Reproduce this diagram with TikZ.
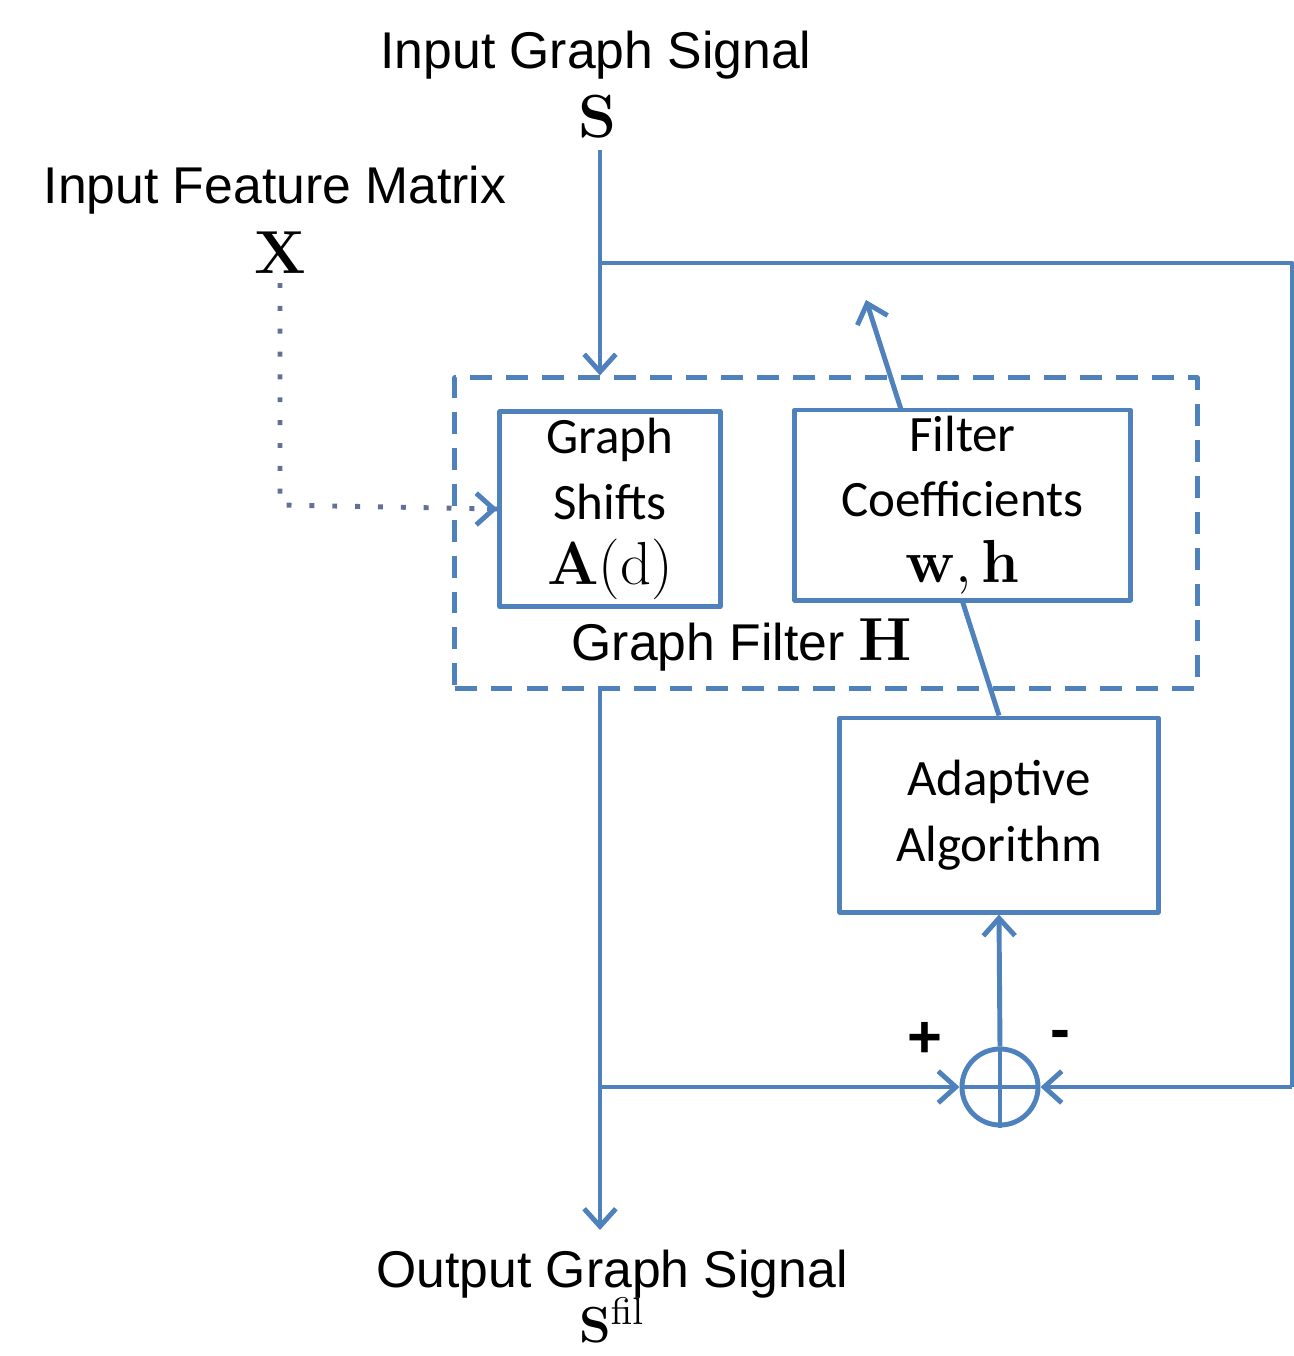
\documentclass[tikz,border=0pt]{standalone}
\usepackage{amsmath}
\usepackage[no-math]{fontspec}
\setmainfont{Liberation Sans}
\newfontfamily\boxfont{Carlito}
\usepackage{xcolor}
\usetikzlibrary{arrows.meta,calc}
\definecolor{lineblue}{RGB}{79,129,189}
\definecolor{dotblue}{RGB}{98,112,150}
\newcommand{\symbig}[1]{{\fontsize{16.5}{18}\selectfont$#1$}}

\begin{document}
\begin{tikzpicture}[x=0.01cm,y=-0.01cm,>={Straight Barb[length=5pt,width=9pt,line width=1.4pt]},line join=round,
  wire/.style={lineblue,line width=1.4pt},
  block/.style={draw=lineblue,line width=1.4pt,fill=white,align=center,inner sep=0pt,
    font=\boxfont\fontsize{14.5}{18.6}\selectfont},
  sigtext/.style={inner sep=0pt,font=\fontsize{14.7}{17.6}\selectfont},
  sign/.style={inner sep=0pt,font=\bfseries\fontsize{17}{20}\selectfont}]
  \useasboundingbox (0,0) rectangle (1294,1356);
  % labels
  \node[sigtext] (inSig) at (596,55) {Input Graph Signal};
  \node[sigtext] (sSym) at (597,117) {\symbig{\mathbf{S}}};
  \node[sigtext] (inFeat) at (275,190) {Input Feature Matrix};
  \node[sigtext] (xSym) at (280,253) {\symbig{\mathbf{X}}};
  \node[sigtext] (outSig) at (612,1274) {Output Graph Signal};
  \node[sigtext] (sFil) at (612,1320) {\fontsize{15.5}{17}\selectfont$\mathbf{S}^{\mathrm{fil}}$};
  \coordinate (sIn) at (600,150);
  \coordinate (jTop) at (600,263);
  \coordinate (rTop) at (1292,263);
  \coordinate (rBot) at (1292,1087);
  \coordinate (jBot) at (600,1087);
  \coordinate (sOut) at (600,1230);
  \coordinate (xTop) at (280,283);
  \coordinate (xCorner) at (280,505);
  \coordinate (fbEnd) at (866,300);
  % graph filter
  \node[draw=lineblue,line width=1.4pt,dash pattern=on 6.2pt off 4pt,minimum width=7.42cm,minimum height=3.1cm,inner sep=0pt] (gf) at (826,533) {};
  \node[sigtext] (gfText) at (742,645) {Graph Filter \symbig{\mathbf{H}}};
  \node[block,minimum width=2.2cm,minimum height=1.95cm] (shifts) at (610,509) {Graph\\Shifts\\\symbig{\mathbf{A}(\mathrm{d})}};
  \node[block,minimum width=3.18cm,minimum height=1.94cm] (adapt) at (999,815) {Adaptive\\Algorithm};
  \draw[wire,->] (adapt.north) -- (fbEnd);
  \node[block,minimum width=3.35cm,minimum height=1.9cm] (coef) at (962.5,505) {Filter\\Coefficients\\\symbig{\mathbf{w,h}}};
  % summing point
  \node[draw=lineblue,line width=1.4pt,circle,minimum size=0.76cm,inner sep=0pt] (sum) at (1000,1087) {};
  \draw[wire] (sum.north) -- (sum.south) (sum.west) -- (sum.east);
  \node[sign] (plus) at (925,1040) {+};
  \node[sign] (minus) at (1060,1040) {-};
  % connectors
  \draw[wire,->] (sIn) -- (gf.north -| sIn);
  \draw[wire] (jTop) -- (rTop) -- (rBot);
  \draw[wire,->] (rBot) -- (sum.east);
  \draw[wire,->] (gf.south -| jBot) -- (sOut);
  \draw[wire,->] (jBot) -- (sum.west);
  \draw[wire,->] (sum.north) -- (adapt.south);
  \draw[dotblue,line width=1.4pt,dash pattern=on 1.4pt off 5.1pt] (xTop) -- (xCorner) -- (shifts.west);
  \draw[lineblue,line width=1.4pt,->] ($(shifts.west)+(-10,0)$) -- (shifts.west);
\end{tikzpicture}
\end{document}
